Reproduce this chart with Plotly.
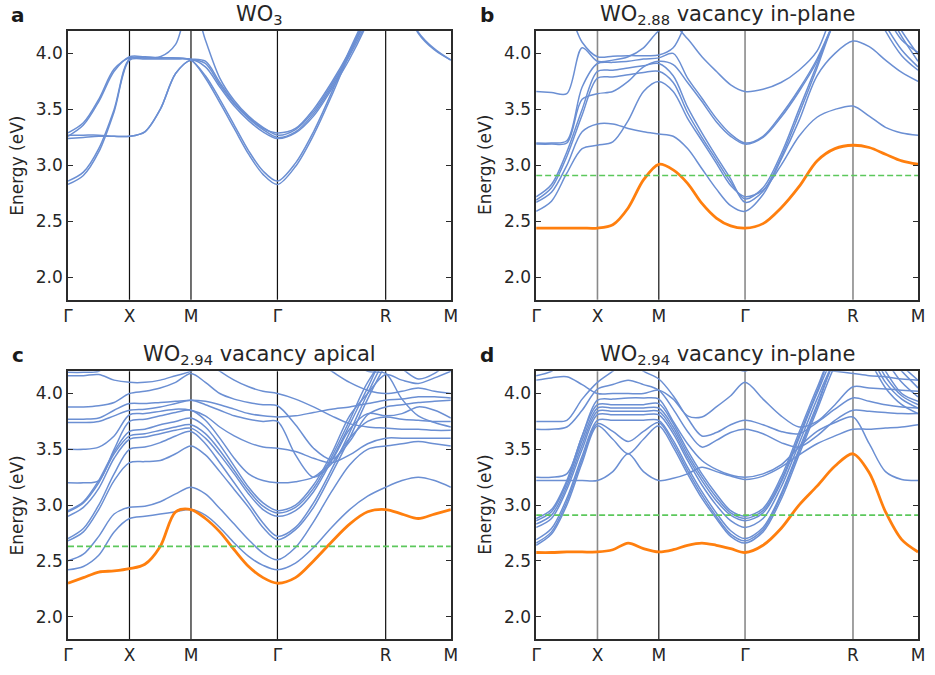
import numpy as np
import plotly.graph_objects as go

# ---------------- k-path ----------------
K_LABELS = ["Γ", "X", "M", "Γ", "R", "M"]
K_POS = [0.0, 0.5, 1.0, 1.703, 2.583, 3.113]
SEG_POINTS = [4, 4, 6, 6, 4]

Y_TICKS = [2.0, 2.5, 3.0, 3.5, 4.0]
Y_RANGE = [1.8, 4.2]

# ---------------- panel a : WO3 ----------------
BANDS_A = [
    [2.83, 2.91, 3.12, 3.48, 3.94, 3.95, 3.95, 3.95, 3.94, 3.78, 3.56, 3.33, 3.10, 2.92, 2.83, 2.99, 3.27, 3.62, 4.00, 4.35, 4.80, 4.50, 4.18, 4.03, 3.94],
    [2.86, 2.94, 3.15, 3.50, 3.95, 3.96, 3.96, 3.96, 3.94, 3.80, 3.59, 3.36, 3.13, 2.95, 2.86, 3.02, 3.30, 3.65, 4.03, 4.38, 4.80, 4.50, 4.19, 4.04, 3.94],
    [3.27, 3.27, 3.27, 3.26, 3.26, 3.30, 3.50, 3.82, 3.94, 3.91, 3.72, 3.55, 3.42, 3.32, 3.25, 3.30, 3.46, 3.70, 3.98, 4.30, 4.70, 4.80, 4.80, 4.70, 4.60],
    [3.29, 3.38, 3.59, 3.86, 3.96, 3.96, 3.96, 3.96, 3.95, 3.93, 3.74, 3.56, 3.43, 3.33, 3.29, 3.33, 3.50, 3.74, 4.02, 4.35, 4.70, 4.80, 4.80, 4.70, 4.60],
    [3.26, 3.36, 3.57, 3.84, 3.97, 3.97, 3.97, 4.08, 4.50, 4.12, 3.78, 3.58, 3.44, 3.34, 3.27, 3.32, 3.48, 3.72, 4.00, 4.33, 4.70, 4.80, 4.80, 4.70, 4.60],
    [3.24, 3.25, 3.26, 3.26, 3.26, 3.30, 3.50, 3.82, 3.94, 3.88, 3.70, 3.53, 3.40, 3.30, 3.24, 3.29, 3.44, 3.68, 3.95, 4.28, 4.70, 4.80, 4.80, 4.70, 4.60],
]
DEFECT_A = None
FERMI_A = None

# ---------------- panel b : WO2.88 in-plane ----------------
BANDS_B = [
    [2.59, 2.68, 2.93, 3.15, 3.18, 3.21, 3.40, 3.66, 3.75, 3.66, 3.42, 3.22, 3.02, 2.82, 2.72, 2.78, 3.00, 3.26, 3.43, 3.50, 3.53, 3.44, 3.34, 3.29, 3.27],
    [2.67, 2.76, 3.00, 3.30, 3.37, 3.37, 3.33, 3.30, 3.28, 3.26, 3.15, 2.97, 2.79, 2.64, 2.59, 2.74, 3.05, 3.40, 3.80, 4.00, 4.11, 4.06, 3.94, 3.83, 3.75],
    [2.69, 2.80, 3.08, 3.45, 3.78, 3.79, 3.81, 3.83, 3.84, 3.74, 3.47, 3.25, 3.05, 2.85, 2.70, 2.80, 3.10, 3.50, 3.90, 4.30, 4.60, 4.50, 4.20, 3.98, 3.85],
    [2.72, 2.83, 3.12, 3.50, 3.84, 3.85, 3.87, 3.89, 3.91, 3.80, 3.52, 3.29, 3.08, 2.88, 2.67, 2.77, 3.07, 3.46, 3.87, 4.30, 4.60, 4.50, 4.25, 4.03, 3.88],
    [3.19, 3.19, 3.20, 3.59, 3.64, 3.66, 3.75, 3.88, 3.93, 3.90, 3.74, 3.57, 3.39, 3.26, 3.19, 3.25, 3.43, 3.66, 3.93, 4.30, 4.60, 4.60, 4.40, 4.15, 3.93],
    [3.20, 3.20, 3.22, 3.70, 3.91, 3.92, 3.93, 3.95, 3.96, 4.00, 3.78, 3.60, 3.42, 3.28, 3.20, 3.26, 3.45, 3.68, 3.95, 4.30, 4.60, 4.60, 4.45, 4.20, 3.99],
    [3.66, 3.65, 3.64, 4.05, 3.93, 3.94, 3.97, 4.05, 4.20, 4.25, 4.13, 3.97, 3.84, 3.72, 3.66, 3.68, 3.74, 3.85, 4.02, 4.40, 4.60, 4.40, 4.40, 4.35, 4.30],
    [4.50, 4.50, 4.40, 4.10, 3.97, 3.975, 3.98, 3.98, 3.985, 4.05, 4.30, 4.50, 4.60, 4.60, 4.60, 4.60, 4.60, 4.60, 4.60, 4.60, 4.60, 4.60, 4.35, 4.12, 4.01],
]
DEFECT_B = [2.44, 2.44, 2.44, 2.44, 2.44, 2.47, 2.62, 2.87, 3.01, 2.96, 2.84, 2.66, 2.53, 2.46, 2.44, 2.48, 2.62, 2.81, 3.04, 3.15, 3.18, 3.16, 3.10, 3.04, 3.01]
FERMI_B = 2.91

# ---------------- panel c : WO2.94 apical ----------------
BANDS_C = [
    [2.42, 2.45, 2.55, 2.76, 2.88, 2.90, 2.92, 2.94, 2.96, 2.91, 2.80, 2.66, 2.54, 2.46, 2.42, 2.48, 2.62, 2.80, 2.96, 3.08, 3.16, 3.22, 3.25, 3.22, 3.16],
    [2.50, 2.56, 2.72, 2.92, 2.98, 2.99, 3.03, 3.10, 3.16, 3.10, 2.97, 2.83, 2.69, 2.57, 2.51, 2.62, 2.85, 3.12, 3.36, 3.50, 3.53, 3.55, 3.57, 3.55, 3.53],
    [2.68, 2.76, 2.96, 3.22, 3.38, 3.39, 3.40, 3.46, 3.53, 3.45, 3.30, 3.14, 2.98, 2.80, 2.69, 2.78, 2.98, 3.28, 3.60, 3.95, 4.25, 4.40, 4.40, 4.40, 4.40],
    [2.70, 2.79, 3.00, 3.28, 3.50, 3.52, 3.56, 3.62, 3.66, 3.55, 3.38, 3.20, 3.02, 2.84, 2.72, 2.80, 3.02, 3.32, 3.65, 4.00, 4.30, 4.40, 4.40, 4.40, 4.40],
    [2.90, 2.98, 3.15, 3.42, 3.59, 3.61, 3.64, 3.67, 3.69, 3.60, 3.45, 3.28, 3.10, 2.96, 2.90, 2.95, 3.12, 3.40, 3.72, 4.05, 4.35, 4.40, 4.40, 4.40, 4.40],
    [2.94, 3.02, 3.20, 3.46, 3.62, 3.64, 3.67, 3.70, 3.72, 3.64, 3.49, 3.31, 3.13, 2.99, 2.93, 2.98, 3.15, 3.43, 3.76, 4.10, 4.30, 4.22, 4.13, 4.18, 4.30],
    [2.95, 3.03, 3.22, 3.48, 3.66, 3.68, 3.72, 3.75, 3.78, 3.70, 3.54, 3.35, 3.16, 3.02, 2.95, 3.00, 3.18, 3.46, 3.80, 4.00, 4.17, 4.12, 4.09, 4.14, 4.20],
    [3.20, 3.20, 3.22, 3.50, 3.75, 3.77, 3.80, 3.83, 3.85, 3.76, 3.60, 3.42, 3.28, 3.22, 3.20, 3.21, 3.25, 3.40, 3.68, 3.82, 3.80, 3.82, 3.88, 3.85, 3.78],
    [3.50, 3.50, 3.52, 3.62, 3.81, 3.82, 3.84, 3.86, 3.85, 3.80, 3.70, 3.62, 3.56, 3.52, 3.51, 3.48, 3.42, 3.38, 3.45, 3.55, 3.60, 3.60, 3.60, 3.60, 3.60],
    [3.74, 3.74, 3.75, 3.80, 3.85, 3.86, 3.88, 3.91, 3.94, 3.90, 3.85, 3.80, 3.77, 3.75, 3.75, 3.45, 3.25, 3.37, 3.60, 3.75, 3.79, 3.77, 3.76, 3.75, 3.75],
    [3.77, 3.77, 3.78, 3.85, 3.91, 3.91, 3.92, 3.93, 3.94, 3.93, 3.90, 3.86, 3.82, 3.80, 3.79, 3.80, 3.83, 3.86, 3.88, 3.91, 3.94, 3.95, 3.97, 3.97, 3.96],
    [3.88, 3.88, 3.89, 3.92, 4.00, 4.02, 4.05, 4.10, 4.18, 4.10, 4.00, 3.95, 3.92, 3.90, 3.89, 3.72, 3.51, 3.41, 3.57, 3.81, 3.88, 3.90, 3.92, 3.93, 3.94],
    [4.16, 4.16, 4.17, 4.12, 4.10, 4.10, 4.12, 4.16, 4.20, 4.30, 4.40, 4.40, 4.40, 4.40, 4.40, 4.40, 4.30, 4.20, 4.10, 4.03, 4.00, 4.02, 4.05, 4.02, 4.00],
    [4.19, 4.19, 4.20, 4.30, 4.40, 4.40, 4.40, 4.40, 4.40, 4.40, 4.40, 4.40, 4.40, 4.40, 4.40, 4.40, 4.40, 4.40, 4.30, 4.20, 4.18, 3.95, 3.80, 3.74, 3.70],
    [4.40, 4.40, 4.40, 4.40, 4.40, 4.40, 4.40, 4.40, 4.40, 4.30, 4.20, 4.12, 4.06, 4.02, 4.00, 3.95, 3.88, 3.80, 3.73, 3.70, 3.69, 3.68, 3.68, 3.67, 3.67],
]
DEFECT_C = [2.30, 2.35, 2.40, 2.41, 2.43, 2.47, 2.63, 2.94, 2.96, 2.88, 2.76, 2.60, 2.45, 2.35, 2.30, 2.35, 2.50, 2.67, 2.83, 2.94, 2.96, 2.92, 2.88, 2.92, 2.96]
FERMI_C = 2.63

# ---------------- panel d : WO2.94 in-plane ----------------
BANDS_D = [
    [2.64, 2.74, 3.00, 3.38, 3.71, 3.59, 3.46, 3.59, 3.71, 3.52, 3.28, 3.06, 2.88, 2.72, 2.66, 2.76, 3.05, 3.45, 3.85, 4.25, 4.50, 4.50, 4.40, 4.25, 4.12],
    [2.66, 2.76, 3.03, 3.41, 3.73, 3.66, 3.57, 3.66, 3.74, 3.55, 3.31, 3.09, 2.90, 2.74, 2.68, 2.78, 3.08, 3.48, 3.88, 4.30, 4.50, 4.50, 4.35, 4.20, 4.05],
    [2.69, 2.79, 3.06, 3.44, 3.76, 3.76, 3.76, 3.76, 3.76, 3.58, 3.34, 3.12, 2.93, 2.77, 2.70, 2.80, 3.10, 3.50, 3.90, 4.30, 4.50, 4.50, 4.30, 4.10, 3.97],
    [2.80, 2.88, 3.14, 3.50, 3.81, 3.81, 3.81, 3.81, 3.81, 3.64, 3.40, 3.18, 3.00, 2.86, 2.80, 2.88, 3.16, 3.55, 3.95, 4.30, 4.50, 4.45, 4.20, 4.00, 3.93],
    [2.83, 2.91, 3.17, 3.54, 3.84, 3.84, 3.84, 3.84, 3.84, 3.67, 3.43, 3.22, 3.04, 2.91, 2.86, 2.93, 3.20, 3.60, 4.00, 4.35, 4.50, 4.40, 4.15, 3.98, 3.90],
    [2.86, 2.94, 3.20, 3.58, 3.87, 3.87, 3.87, 3.87, 3.87, 3.70, 3.46, 3.25, 3.07, 2.93, 2.88, 2.95, 3.22, 3.62, 4.02, 4.40, 4.50, 4.35, 4.10, 3.95, 3.87],
    [2.88, 2.96, 3.22, 3.62, 3.90, 3.90, 3.90, 3.90, 3.91, 3.73, 3.49, 3.28, 3.10, 2.95, 2.90, 2.97, 3.25, 3.65, 4.05, 4.40, 4.50, 4.30, 4.05, 3.90, 3.82],
    [3.22, 3.22, 3.22, 3.22, 3.22, 3.30, 3.46, 3.30, 3.22, 3.24, 3.28, 3.34, 3.30, 3.26, 3.23, 3.26, 3.34, 3.45, 3.55, 3.62, 3.68, 3.68, 3.69, 3.70, 3.72],
    [3.25, 3.25, 3.28, 3.62, 3.94, 3.95, 3.96, 3.96, 3.95, 3.75, 3.55, 3.40, 3.32, 3.27, 3.25, 3.28, 3.36, 3.52, 3.66, 3.74, 3.79, 3.55, 3.30, 3.23, 3.22],
    [3.68, 3.68, 3.70, 3.85, 4.04, 4.08, 4.12, 4.08, 4.03, 3.86, 3.66, 3.52, 3.58, 3.65, 3.68, 3.64, 3.56, 3.52, 3.62, 3.76, 3.85, 3.84, 3.83, 3.82, 3.82],
    [3.75, 3.75, 3.76, 3.95, 4.10, 4.20, 4.30, 4.20, 4.13, 3.98, 3.78, 3.62, 3.65, 3.72, 3.76, 3.72, 3.66, 3.64, 3.74, 3.86, 3.96, 3.93, 3.90, 3.88, 3.87],
    [4.12, 4.14, 4.15, 4.08, 4.00, 4.00, 4.00, 4.00, 4.03, 3.95, 3.80, 3.79, 3.88, 3.98, 4.10, 3.95, 3.80, 3.70, 3.75, 3.90, 4.06, 4.05, 4.04, 4.03, 4.02],
    [4.16, 4.20, 4.30, 4.30, 4.30, 4.30, 4.30, 4.30, 4.30, 4.30, 4.30, 4.30, 4.30, 4.25, 4.20, 4.30, 4.30, 4.25, 4.22, 4.20, 4.18, 4.16, 4.15, 4.13, 4.12],
]
DEFECT_D = [2.575, 2.575, 2.58, 2.58, 2.58, 2.60, 2.66, 2.61, 2.58, 2.60, 2.64, 2.66, 2.64, 2.61, 2.575, 2.64, 2.79, 3.00, 3.17, 3.35, 3.46, 3.29, 2.94, 2.69, 2.58]
FERMI_D = 2.91

TITLES = ["WO<sub>3</sub>", "WO<sub>2.88</sub> vacancy in-plane",
          "WO<sub>2.94</sub> vacancy apical", "WO<sub>2.94</sub> vacancy in-plane"]
LETTERS = ["a", "b", "c", "d"]

# ---------------- styling ----------------
BLUE = "#6b8fd3"
ORANGE = "#ff7f0e"
GREEN = "#5cc85c"
AX = "#2b2b2b"
FONT = "DejaVu Sans"

W, H = 935, 675
ML, MR, MT, MB = 68, 10, 31, 31
PW, PH = W - ML - MR, H - MT - MB


def px_x(p):
    return (p - ML) / PW


def px_y(p):
    return (H - MB - p) / PH


XDOM = [[px_x(68), px_x(454)], [px_x(540), px_x(925)]]
YDOM = [[px_y(302), px_y(31)], [px_y(644), px_y(374)]]


def k_grid():
    ks = [K_POS[0]]
    for i, n in enumerate(SEG_POINTS):
        ks.extend(np.linspace(K_POS[i], K_POS[i + 1], n + 1)[1:].tolist())
    return ks


K = k_grid()

panels = [
    (BANDS_A, DEFECT_A, FERMI_A, 0, 0, False),
    (BANDS_B, DEFECT_B, FERMI_B, 0, 1, True),
    (BANDS_C, DEFECT_C, FERMI_C, 1, 0, False),
    (BANDS_D, DEFECT_D, FERMI_D, 1, 1, True),
]

fig = go.Figure()
layout = dict(
    width=W, height=H,
    margin=dict(l=ML, r=MR, t=MT, b=MB),
    paper_bgcolor="white", plot_bgcolor="white",
    showlegend=False,
    font=dict(family=FONT, color="#262626"),
)
shapes = []
annotations = []

for i, (bands, defect, ef, row, col, gray) in enumerate(panels):
    n = i + 1
    xa = "x" if n == 1 else f"x{n}"
    ya = "y" if n == 1 else f"y{n}"
    for b in bands:
        fig.add_trace(go.Scatter(x=K, y=b, mode="lines", xaxis=xa, yaxis=ya,
                                 line=dict(color=BLUE, width=1.5, shape="spline", smoothing=0.9),
                                 hoverinfo="skip"))
    if defect is not None:
        fig.add_trace(go.Scatter(x=K, y=defect, mode="lines", xaxis=xa, yaxis=ya,
                                 line=dict(color=ORANGE, width=2.8, shape="spline", smoothing=0.9),
                                 hoverinfo="skip"))
    if ef is not None:
        fig.add_trace(go.Scatter(x=[K_POS[0], K_POS[-1]], y=[ef, ef], mode="lines",
                                 xaxis=xa, yaxis=ya,
                                 line=dict(color=GREEN, width=1.6, dash="6px,3px"),
                                 hoverinfo="skip"))
    xkey = "xaxis" if n == 1 else f"xaxis{n}"
    ykey = "yaxis" if n == 1 else f"yaxis{n}"
    layout[xkey] = dict(domain=XDOM[col], anchor=ya, range=[K_POS[0], K_POS[-1]],
                        tickmode="array", tickvals=K_POS, ticktext=K_LABELS,
                        ticks="", showline=True, mirror=True, linecolor=AX, linewidth=1.5,
                        showgrid=False, zeroline=False,
                        tickfont=dict(size=17, color="#262626", family=FONT))
    layout[ykey] = dict(domain=YDOM[row], anchor=xa, range=Y_RANGE,
                        tickmode="array", tickvals=Y_TICKS,
                        ticktext=[f"{v:.1f}" for v in Y_TICKS],
                        ticks="inside", ticklen=5, tickwidth=1.2, tickcolor=AX,
                        showline=True, mirror="ticks", linecolor=AX, linewidth=1.5,
                        showgrid=False, zeroline=False,
                        tickfont=dict(size=17, color="#262626", family=FONT))
    for j, kp in enumerate(K_POS[1:-1]):
        lab = K_LABELS[j + 1]
        c = "#111111"
        if gray and lab != "M":
            c = "#8a8a8a"
        shapes.append(dict(type="line", xref=xa, yref=f"{ya} domain",
                           x0=kp, x1=kp, y0=0, y1=1, layer="below",
                           line=dict(color=c, width=1.2 if c == "#111111" else 1.6)))
    xl, xr = XDOM[col]
    yb, yt = YDOM[row]
    top_px = 31 if row == 0 else 374
    annotations.append(dict(text=TITLES[i], x=(xl + xr) / 2, y=px_y(top_px - 16),
                            xref="paper", yref="paper", showarrow=False,
                            xanchor="center", yanchor="middle",
                            font=dict(size=21, color="#262626", family=FONT)))
    letter_px = 18 if col == 0 else 490
    annotations.append(dict(text=f"<b>{LETTERS[i]}</b>", x=px_x(letter_px), y=px_y(top_px - 16),
                            xref="paper", yref="paper", showarrow=False,
                            xanchor="center", yanchor="middle",
                            font=dict(size=20, color="#1a1a1a", family=FONT)))
    annotations.append(dict(text="Energy (eV)", x=px_x(letter_px - 1), y=(yb + yt) / 2,
                            xref="paper", yref="paper", showarrow=False, textangle=-90,
                            xanchor="center", yanchor="middle",
                            font=dict(size=17, color="#262626", family=FONT)))

layout["shapes"] = shapes
layout["annotations"] = annotations
fig.update_layout(**layout)
fig.write_html("out.html")
